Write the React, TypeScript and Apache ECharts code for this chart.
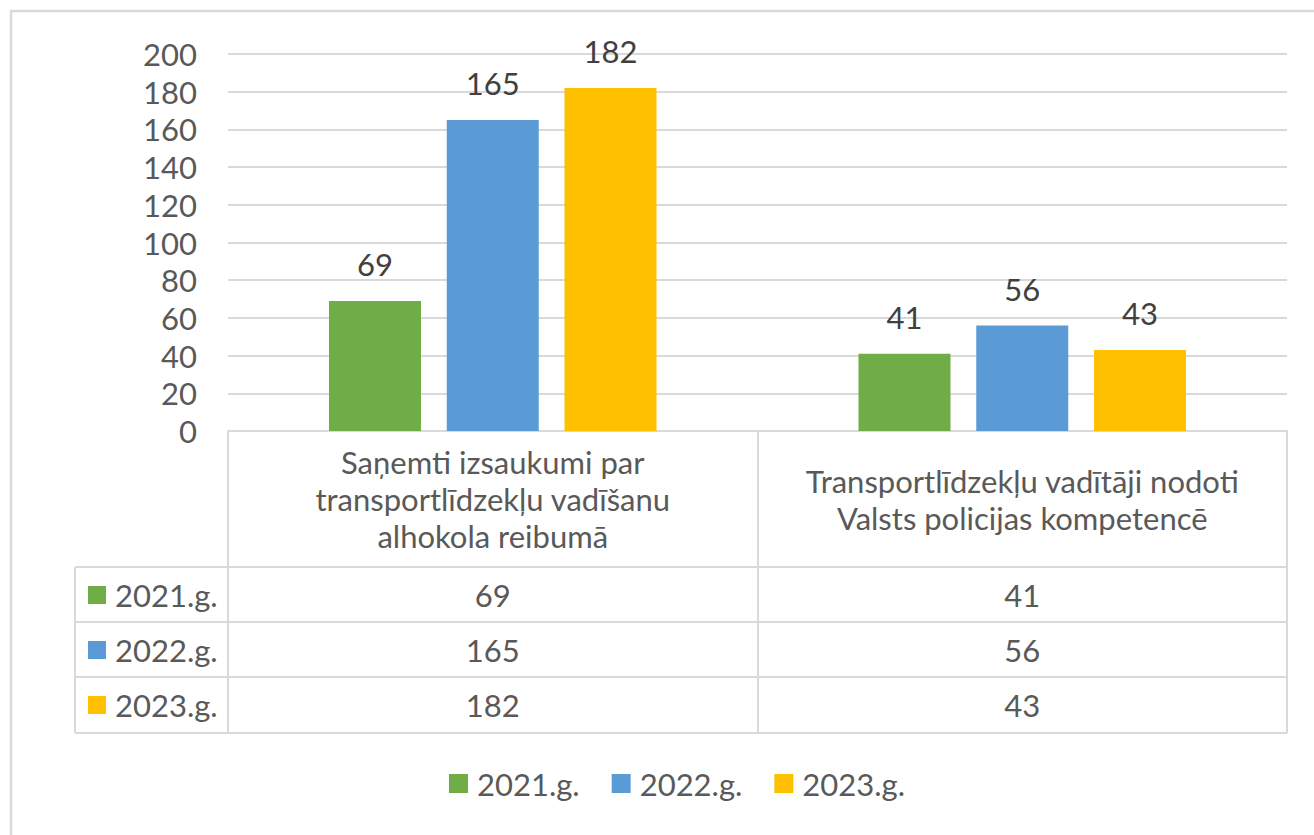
import React, { useEffect, useRef } from "react";
import * as echarts from "echarts";

const categories = [
  "Saņemti izsaukumi par\ntransportlīdzekļu vadīšanu\nalhokola reibumā",
  "Transportlīdzekļu vadītāji nodoti\nValsts policijas kompetencē",
];
const seriesNames = ["2021.g.", "2022.g.", "2023.g."];
const values2021 = [69, 41];
const values2022 = [165, 56];
const values2023 = [182, 43];
const seriesValues = [values2021, values2022, values2023];
const colors = ["#70AD47", "#5B9BD5", "#FFC000"];
const yTicks = { min: 0, max: 200, interval: 20 };

const FONT = "Lato";
const FS = 31;
const TEXT = "#595959";
const LINE = "#D9D9D9";

export default function App() {
  const ref = useRef<HTMLDivElement>(null);
  useEffect(() => {
    if (!ref.current) return;
    const chart = echarts.init(ref.current, undefined, { renderer: "svg" });

    const gridTop = 54;
    const gridBottomY = 431;
    const rowH = 55;
    const rowFirstCenter = 595;
    const tableLeft = 75;
    const tableRight = 1287;
    const headerBottom = 567;

    const rowAxes = seriesValues.map((vals, i) => ({
      type: "category",
      gridIndex: 0,
      position: "bottom",
      offset: rowFirstCenter - gridBottomY + i * rowH,
      data: categories,
      axisLine: { show: false },
      axisTick: { show: false },
      axisLabel: {
        interval: 0,
        margin: 0,
        verticalAlign: "middle",
        fontFamily: FONT,
        fontSize: FS,
        color: TEXT,
        formatter: (_v: string, idx: number) => String(vals[idx]),
      },
    }));

    const graphics: any[] = [
      {
        type: "rect",
        shape: { x: 11, y: 11, width: 1400, height: 900 },
        style: { fill: "none", stroke: LINE, lineWidth: 2.5 },
        silent: true,
      },
      {
        type: "line",
        shape: { x1: tableLeft, y1: headerBottom, x2: tableLeft, y2: headerBottom + 3 * rowH + 1 },
        style: { stroke: LINE, lineWidth: 2 },
      },
    ];
    for (let i = 0; i <= 3; i++) {
      const y = headerBottom + i * rowH + (i === 3 ? 1 : 0);
      graphics.push({
        type: "line",
        shape: { x1: tableLeft, y1: y, x2: tableRight, y2: y },
        style: { stroke: LINE, lineWidth: 2 },
      });
    }
    seriesNames.forEach((name, i) => {
      const cy = rowFirstCenter + i * rowH;
      graphics.push({
        type: "rect",
        shape: { x: 88, y: cy - 9, width: 18, height: 18 },
        style: { fill: colors[i] },
      });
      graphics.push({
        type: "text",
        x: 115,
        y: cy,
        style: {
          text: name,
          fontFamily: FONT,
          fontSize: FS,
          fill: TEXT,
          verticalAlign: "middle",
          align: "left",
        },
      });
    });

    chart.setOption({
      animation: false,
      backgroundColor: "#FFFFFF",
      textStyle: { fontFamily: FONT },
      grid: { left: 228, right: 1314 - tableRight, top: gridTop, bottom: 835 - gridBottomY, containLabel: false },
      legend: {
        data: seriesNames,
        top: 763,
        left: 444,
        icon: "rect",
        itemWidth: 19,
        itemHeight: 19,
        itemGap: 32,
        textStyle: { fontFamily: FONT, fontSize: FS, color: TEXT, padding: [0, 0, 0, 4] },
      },
      xAxis: [
        {
          type: "category",
          data: categories,
          axisLine: { show: true, lineStyle: { color: LINE, width: 2 } },
          axisTick: {
            show: true,
            alignWithLabel: false,
            length: 302,
            lineStyle: { color: LINE, width: 2 },
          },
          axisLabel: {
            interval: 0,
            margin: 68,
            verticalAlign: "middle",
            align: "center",
            lineHeight: 37,
            fontFamily: FONT,
            fontSize: FS,
            color: TEXT,
          },
        },
        ...rowAxes,
      ],
      yAxis: {
        type: "value",
        min: yTicks.min,
        max: yTicks.max,
        interval: yTicks.interval,
        axisLine: { show: false },
        axisTick: { show: false },
        axisLabel: { margin: 31, fontFamily: FONT, fontSize: FS, color: TEXT },
        splitLine: { lineStyle: { color: LINE, width: 2 } },
      },
      series: seriesNames.map((name, i) => ({
        name,
        type: "bar",
        data: seriesValues[i],
        barWidth: 92,
        barGap: "28%",
        itemStyle: { color: colors[i] },
        label: {
          show: true,
          position: "top",
          distance: 21,
          fontFamily: FONT,
          fontSize: FS,
          color: "#404040",
        },
      })),
      graphic: graphics,
    });

    return () => chart.dispose();
  }, []);

  return (
    <div
      ref={ref}
      style={{ position: "absolute", left: 0, top: 0, width: 1314, height: 835, background: "#fff" }}
    />
  );
}
